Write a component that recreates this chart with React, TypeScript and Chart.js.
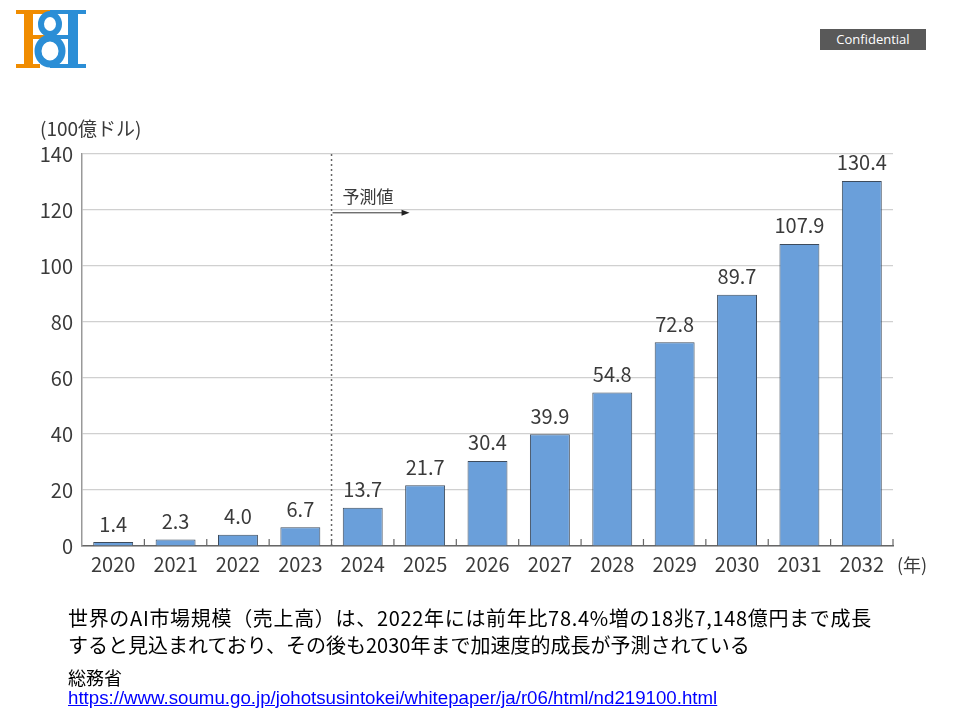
import React, { useEffect, useRef } from "react";
import { Chart, registerables } from "chart.js";

Chart.register(...registerables);

const years = ["2020", "2021", "2022", "2023", "2024", "2025", "2026", "2027", "2028", "2029", "2030", "2031", "2032"];
const marketSize = [1.4, 2.3, 4.0, 6.7, 13.7, 21.7, 30.4, 39.9, 54.8, 72.8, 89.7, 107.9, 130.4];
const yTicks = [0, 20, 40, 60, 80, 100, 120, 140];
const yUnit = "(100億ドル)";
const xUnit = "(年)";
const forecastLabel = "予測値";
const forecastStartIndex = 4;
const captionLines = [
  "世界のAI市場規模（売上高）は、2022年には前年比78.4%増の18兆7,148億円まで成長",
  "すると見込まれており、その後も2030年まで加速度的成長が予測されている",
];
const sourceName = "総務省";
const sourceUrl = "https://www.soumu.go.jp/johotsusintokei/whitepaper/ja/r06/html/nd219100.html";

const FONT = '"Noto Sans CJK JP", "Noto Sans", sans-serif';
const TEXT = "#3a3a3a";

const decorPlugin = {
  id: "decor",
  afterDatasetsDraw(chart: any) {
    const ctx = chart.ctx;
    const area = chart.chartArea;
    const xs = chart.scales.x;
    const ys = chart.scales.y;
    const meta = chart.getDatasetMeta(0);
    ctx.save();
    // value labels
    ctx.fillStyle = TEXT;
    ctx.font = `20px ${FONT}`;
    ctx.textAlign = "center";
    ctx.textBaseline = "bottom";
    meta.data.forEach((bar: any, i: number) => {
      ctx.fillText(marketSize[i].toFixed(1), bar.x, bar.y - 8);
    });
    // inward ticks on x axis at category boundaries
    ctx.strokeStyle = "#666";
    ctx.lineWidth = 1.2;
    for (let i = 1; i <= years.length; i++) {
      const bx = i < years.length
        ? (xs.getPixelForValue(i - 1) + xs.getPixelForValue(i)) / 2
        : area.right;
      ctx.beginPath();
      ctx.moveTo(bx, area.bottom);
      ctx.lineTo(bx, area.bottom - 7);
      ctx.stroke();
    }
    // forecast dotted divider
    const dx = (xs.getPixelForValue(forecastStartIndex - 1) + xs.getPixelForValue(forecastStartIndex)) / 2;
    ctx.strokeStyle = "#666";
    ctx.lineWidth = 1.5;
    ctx.setLineDash([2, 3]);
    ctx.beginPath();
    ctx.moveTo(dx, area.top);
    ctx.lineTo(dx, area.bottom);
    ctx.stroke();
    ctx.setLineDash([]);
    // arrow
    const ay = ys.getPixelForValue(119);
    ctx.strokeStyle = "#333";
    ctx.lineWidth = 1;
    ctx.beginPath();
    ctx.moveTo(dx + 1, ay);
    ctx.lineTo(dx + 72, ay);
    ctx.stroke();
    ctx.fillStyle = "#222";
    ctx.beginPath();
    ctx.moveTo(dx + 78, ay);
    ctx.lineTo(dx + 70, ay - 3);
    ctx.lineTo(dx + 70, ay + 3);
    ctx.closePath();
    ctx.fill();
    ctx.fillStyle = TEXT;
    ctx.font = `17px ${FONT}`;
    ctx.textAlign = "left";
    ctx.textBaseline = "middle";
    ctx.fillText(forecastLabel, dx + 11, ys.getPixelForValue(124.8));
    // axis units
    ctx.font = `18px ${FONT}`;
    ctx.fillText(xUnit, area.right + 4, area.bottom + 19);
    ctx.font = `19px ${FONT}`;
    ctx.fillText(yUnit, 40, area.top - 25);
    ctx.restore();
  },
};

function Logo() {
  const orange = "#f08c00";
  const blue = "#2b8ed6";
  return (
    <svg width={100} height={75} style={{ position: "absolute", left: 0, top: 0 }}>
      <rect x={16} y={10} width={34} height={4} fill={orange} />
      <rect x={50} y={10} width={36} height={4} fill={blue} />
      <rect x={24} y={10} width={9} height={58} fill={orange} />
      <rect x={16} y={64} width={24} height={4} fill={orange} />
      <rect x={50} y={64} width={36} height={4} fill={blue} />
      <rect x={68} y={10} width={10} height={58} fill={blue} />
      <rect x={33} y={35} width={19} height={4} fill={orange} />
      <rect x={52} y={35} width={16} height={4} fill={blue} />
      <ellipse cx={50} cy={24} rx={9} ry={10} stroke={blue} strokeWidth={6} fill="none" />
      <ellipse cx={50} cy={51} rx={12} ry={13} stroke={blue} strokeWidth={7} fill="none" />
    </svg>
  );
}

export default function App() {
  const canvasRef = useRef<HTMLCanvasElement>(null);

  useEffect(() => {
    if (!canvasRef.current) return;
    const chart = new Chart(canvasRef.current, {
      type: "bar",
      data: {
        labels: years,
        datasets: [
          {
            data: marketSize,
            backgroundColor: "#6a9fda",
            borderColor: "#3d4b5c",
            borderWidth: 1,
            barPercentage: 0.64,
            categoryPercentage: 1,
          },
        ],
      },
      options: {
        responsive: false,
        animation: false,
        layout: { padding: { left: 32, top: 154, right: 67, bottom: 114 } },
        plugins: { legend: { display: false }, tooltip: { enabled: false } },
        scales: {
          x: {
            grid: { display: false, drawTicks: false },
            border: { display: true, color: "#666", width: 1.5 },
            ticks: { color: TEXT, font: { family: FONT, size: 20 }, padding: 6, maxRotation: 0 },
            afterFit: (s: any) => { s.height = 60; },
          },
          y: {
            min: 0,
            max: 140,
            afterBuildTicks: (s: any) => { s.ticks = yTicks.map((v) => ({ value: v })); },
            grid: { color: "#d0d0d0", lineWidth: 1.2, drawTicks: false },
            border: { display: true, color: "#999", width: 1.5 },
            ticks: { color: TEXT, font: { family: FONT, size: 20 }, padding: 9 },
            afterFit: (s: any) => { s.width = 50; },
          },
        },
      },
      plugins: [decorPlugin],
    });
    return () => chart.destroy();
  }, []);

  return (
    <div style={{ position: "absolute", left: 0, top: 0, width: 960, height: 720, background: "#fff", overflow: "hidden" }}>
      <canvas ref={canvasRef} width={960} height={720} style={{ position: "absolute", left: 0, top: 0 }} />
      <Logo />
      <div
        style={{
          position: "absolute", left: 820, top: 29, width: 106, height: 21, background: "#595959",
          color: "#fff", font: '13px "Open Sans", "Liberation Sans", sans-serif', lineHeight: "21px", textAlign: "center",
        }}
      >
        Confidential
      </div>
      <div style={{ position: "absolute", left: 68, top: 604, font: `20px ${FONT}`, lineHeight: "27px", color: "#000", whiteSpace: "nowrap" }}>
        <div style={{ letterSpacing: "0.68px" }}>{captionLines[0]}</div>
        <div>{captionLines[1]}</div>
      </div>
      <div style={{ position: "absolute", left: 68, top: 666, font: `18px ${FONT}`, lineHeight: "22px", color: "#000" }}>
        {sourceName}
      </div>
      <div style={{ position: "absolute", left: 68, top: 687, font: '18.7px "Liberation Sans", Arial, sans-serif', lineHeight: "21px" }}>
        <a href={sourceUrl} style={{ color: "#0000ff", textDecoration: "underline" }}>{sourceUrl}</a>
      </div>
    </div>
  );
}
